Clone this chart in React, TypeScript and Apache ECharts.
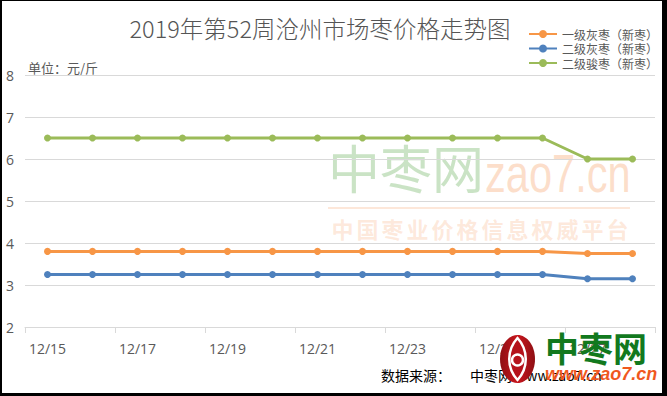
import React, { useEffect, useRef } from "react";
import * as echarts from "echarts";

const categories = ["12/15", "12/16", "12/17", "12/18", "12/19", "12/20", "12/21", "12/22", "12/23", "12/24", "12/25", "12/26", "12/27", "12/28"];
const grade1Gray = [3.8, 3.8, 3.8, 3.8, 3.8, 3.8, 3.8, 3.8, 3.8, 3.8, 3.8, 3.8, 3.75, 3.75];
const grade2Gray = [3.25, 3.25, 3.25, 3.25, 3.25, 3.25, 3.25, 3.25, 3.25, 3.25, 3.25, 3.25, 3.15, 3.15];
const grade2Jun = [6.5, 6.5, 6.5, 6.5, 6.5, 6.5, 6.5, 6.5, 6.5, 6.5, 6.5, 6.5, 6.0, 6.0];
const seriesNames = ["一级灰枣（新枣）", "二级灰枣（新枣）", "二级骏枣（新枣）"];
const seriesColors = ["#F79646", "#4F81BD", "#9BBB59"];
const titleText = "2019年第52周沧州市场枣价格走势图";
const unitText = "单位：元/斤";
const slogan = "中国枣业价格信息权威平台";

const CJK = '"Noto Sans CJK SC", "Noto Sans", sans-serif';

echarts.graphic.registerShape(
  "spindle",
  echarts.graphic.extendPath("M0,-21 C11,-9 11,9 0,21 C-11,9 -11,-9 0,-21 Z", {})
);

export default function App() {
  const ref = useRef<HTMLDivElement>(null);
  useEffect(() => {
    if (!ref.current) return;
    const chart = echarts.init(ref.current, null, { renderer: "svg" });
    const sloganEls = slogan.split("").map((ch, i) => ({
      type: "text",
      x: 340.5 + 25 * i,
      y: 226.5,
      z: 0,
      style: {
        text: ch,
        fontSize: 22,
        fontWeight: "bold",
        fontFamily: CJK,
        fill: "rgba(250,185,145,0.32)",
        align: "center",
        verticalAlign: "middle",
      },
    }));
    chart.setOption({
      animation: false,
      backgroundColor: "#ffffff",
      grid: { left: 23, right: 7, top: 74, bottom: 66 },
      legend: {
        orient: "vertical",
        left: 521,
        top: 22,
        itemWidth: 28,
        itemHeight: 10,
        itemGap: 2.5,
        textStyle: { fontSize: 12, color: "#595959", fontFamily: CJK, lineHeight: 12 },
        data: seriesNames,
      },
      xAxis: {
        type: "category",
        data: categories,
        boundaryGap: true,
        axisLine: { lineStyle: { color: "#d9d9d9", width: 1 } },
        axisTick: { show: true, interval: 1, length: 6, lineStyle: { color: "#d9d9d9" } },
        axisLabel: { interval: 1, fontSize: 14, color: "#595959", margin: 14, fontFamily: '"Open Sans", sans-serif' },
        splitLine: { show: false },
      },
      yAxis: {
        type: "value",
        min: 2,
        max: 8,
        interval: 1,
        axisLine: { show: false },
        axisTick: { show: false },
        axisLabel: { fontSize: 14, color: "#595959", margin: 11, fontFamily: '"Open Sans", sans-serif' },
        splitLine: { lineStyle: { color: "#d9d9d9", width: 1 } },
      },
      series: [grade1Gray, grade2Gray, grade2Jun].map((d, i) => ({
        name: seriesNames[i],
        type: "line",
        data: d,
        symbol: "circle",
        symbolSize: 7,
        z: 5,
        lineStyle: { width: 3, color: seriesColors[i] },
        itemStyle: { color: seriesColors[i] },
      })),
      graphic: [
        {
          type: "text",
          x: 318,
          y: 27,
          style: {
            text: titleText,
            fontSize: 23.5,
            fontWeight: 300,
            fontFamily: CJK,
            fill: "#555555",
            align: "center",
            verticalAlign: "middle",
          },
        },
        {
          type: "text",
          x: 26,
          y: 66,
          style: { text: unitText, fontSize: 13, fontFamily: CJK, fill: "#595959", verticalAlign: "middle" },
        },
        {
          type: "text",
          x: 326,
          y: 165,
          z: 0,
          style: {
            text: "中枣网",
            fontSize: 52,
            fontFamily: CJK,
            fill: "rgba(150,200,140,0.5)",
            verticalAlign: "middle",
          },
        },
        {
          type: "text",
          x: 483,
          y: 172,
          z: 0,
          scaleX: 0.77,
          style: {
            text: "zao7.cn",
            fontSize: 54,
            fontFamily: '"Liberation Sans", Arial, sans-serif',
            fill: "rgba(250,190,150,0.5)",
            verticalAlign: "middle",
          },
        },
        {
          type: "line",
          z: 0,
          shape: { x1: 326, y1: 207, x2: 628, y2: 207 },
          style: { stroke: "rgba(250,185,145,0.35)", lineWidth: 2 },
        },
        ...sloganEls,
        {
          type: "text",
          x: 379,
          y: 374,
          style: { text: "数据来源：", fontSize: 14, fontFamily: CJK, fill: "#000000", verticalAlign: "middle" },
        },
        {
          type: "text",
          x: 468,
          y: 374,
          style: { text: "中枣网 www.zao7.cn", fontSize: 14, fontFamily: CJK, fill: "#000000", verticalAlign: "middle" },
        },
        {
          type: "ellipse",
          z: 100,
          shape: { cx: 515.5, cy: 358, rx: 17.5, ry: 24 },
          style: {
            fill: new echarts.graphic.LinearGradient(0, 0, 1, 0, [
              { offset: 0, color: "#8e0f14" },
              { offset: 0.5, color: "#c8161d" },
              { offset: 1, color: "#8e0f14" },
            ]),
          },
        },
        {
          type: "spindle",
          z: 101,
          x: 515.5,
          y: 358,
          style: { fill: "#b5121b", stroke: "#ffffff", lineWidth: 2.5 },
        },
        {
          type: "circle",
          z: 102,
          shape: { cx: 515.5, cy: 359, r: 5.5 },
          style: { fill: "#b5121b", stroke: "#ffffff", lineWidth: 2.5 },
        },
        {
          type: "text",
          z: 100,
          x: 543,
          y: 346.5,
          style: {
            text: "中枣网",
            fontSize: 34,
            fontWeight: "bold",
            fontFamily: CJK,
            fill: "#12791e",
            verticalAlign: "middle",
          },
        },
        {
          type: "text",
          z: 100,
          x: 543,
          y: 373,
          style: {
            text: "www.zao7.cn",
            fontSize: 18,
            fontWeight: "bold",
            fontStyle: "italic",
            fontFamily: '"Liberation Sans", Arial, sans-serif',
            fill: "#f0581e",
            verticalAlign: "middle",
          },
        },
      ],
    });
    return () => chart.dispose();
  }, []);
  return (
    <div style={{ position: "fixed", left: 0, top: 0, width: 667, height: 396, background: "#000" }}>
      <div ref={ref} style={{ position: "absolute", left: 2, top: 1, width: 660, height: 392 }} />
    </div>
  );
}
